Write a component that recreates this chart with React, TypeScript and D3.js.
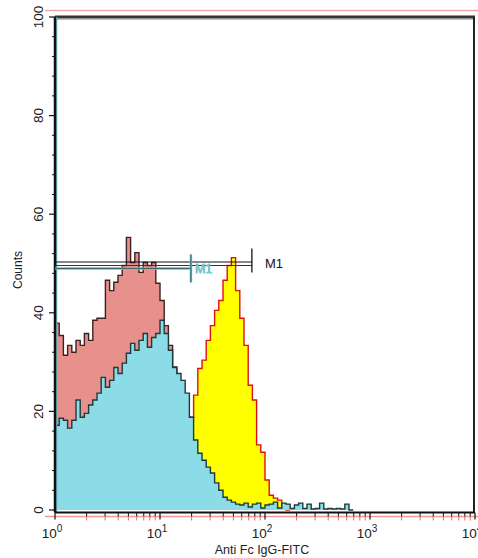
import React from 'react';
import * as d3 from 'd3';

// log10 bin width of the histograms
const binStep = 0.04;

// red-ish control histogram, bins starting at log10 = 0
const pinkStart = 0;
const pinkCounts = [37.9, 35.4, 31.4, 33.4, 32.0, 34.4, 33.4, 35.8, 34.4, 38.5, 38.9, 38.9, 46.6, 44.5, 46.2, 47.6, 49.6, 55.3, 50.2, 52.2, 48.2, 50.2, 49.6, 50.2, 46.0, 42.5, 37.4, 33.4, 29, 24, 19, 14, 9, 5, 3, 1.5, 0.5];

// blue histogram, bins starting at log10 = 0
const blueStart = 0;
const blueCounts = [17.2, 18.6, 18.2, 16.6, 18.2, 22.3, 18.8, 19.6, 21.3, 22.3, 23.7, 26.9, 24.9, 26.3, 28.9, 27.7, 29.8, 31.8, 33.8, 32.4, 34.4, 35.8, 33.0, 35.0, 35.8, 38.5, 35.8, 32.4, 28.9, 27.7, 26.3, 23.7, 18.8, 14.2, 11.5, 10.1, 8.7, 7.5, 5.5, 4.0, 2.6, 2.0, 1.6, 1.2, 1.0, 1.4, 0.6, 1.2, 1.4, 0.4, 1.0, 1.2, 1.6, 0.4, 1.4, 1.2, 0.3, 1.0, 1.4, 0.3, 1.2, 0.2, 0.3, 1.4, 0.2, 0.3, 0.2, 0.3, 0.2, 1.2, 0];

// yellow stained histogram, bins starting at log10 = 1.20
const yellowStart = 1.2;
const yellowCounts = [8, 13, 18.8, 23.3, 28.7, 30.4, 34.4, 37.4, 40.5, 42.5, 46.6, 49.6, 51.2, 44.5, 38.9, 33.4, 25.3, 22.3, 13.2, 11.7, 6.1, 3.0, 2.4, 2.0, 0.4, 0];

const decades = [0, 1, 2, 3, 4];
const yTicks = [0, 20, 40, 60, 80, 100];

// gates: [start, end] in channel value, level in counts
const gateBlack = { from: 1, to: 75, level: 50.2, label: 'M1' };
const gateBlue = { from: 1, to: 19.7, level: 49.0, label: 'M1' };

const W = 478;
const H = 558;
const font = '"Liberation Sans", Arial, sans-serif';

const x = d3.scaleLog().domain([1, 1e4]).range([55, 475]);
const y = d3.scaleLinear().domain([0, 100]).range([510, 17]);

const toPoints = (start: number, counts: number[]) => {
  const pts = counts.map((c, i) => [Math.pow(10, start + i * binStep), c] as [number, number]);
  const last = start + counts.length * binStep;
  pts.push([Math.pow(10, last), 0]);
  return pts;
};

const area = d3.area<[number, number]>()
  .x(d => x(d[0]))
  .y0(y(0))
  .y1(d => y(d[1]))
  .curve(d3.curveStepAfter);

const line = d3.line<[number, number]>()
  .x(d => x(d[0]))
  .y(d => y(d[1]))
  .curve(d3.curveStepAfter);

const Hist = ({ start, counts, fill, stroke }: any) => {
  const pts = toPoints(start, counts);
  return (
    <g>
      <path d={area(pts) || ''} fill={fill} />
      <path d={line(pts) || ''} fill="none" stroke={stroke} strokeWidth={1.4} />
    </g>
  );
};

export default function App() {
  const axisY = y(0) + 2.5;
  const minorX: number[] = [];
  for (let d = 0; d < 4; d++) for (let m = 2; m <= 9; m++) minorX.push(m * Math.pow(10, d));
  const minorY = d3.range(0, 101, 4).filter(v => v % 20 !== 0);

  return (
    <div style={{ position: 'fixed', left: 0, top: 0 }}>
      <svg width={W} height={H} style={{ display: 'block', background: '#fff' }}>
        {/* faint pink echo lines */}
        <line x1={45} x2={478} y1={10.5} y2={10.5} stroke="#f4a6a6" strokeWidth={1.5} />
        <line x1={45} x2={478} y1={axisY + 4} y2={axisY + 4} stroke="#ef9a9a" strokeWidth={1.5} />

        <Hist start={pinkStart} counts={pinkCounts} fill="#e8908c" stroke="#3a2222" />
        <Hist start={yellowStart} counts={yellowCounts} fill="#ffff00" stroke="#e01010" />
        <Hist start={blueStart} counts={blueCounts} fill="#8cdce8" stroke="#1d3a3d" />

        {/* frame */}
        <line x1={x(1)} x2={x(1e4)} y1={y(100)} y2={y(100)} stroke="#333" strokeWidth={3} />
        <line x1={x(1)} x2={x(1e4)} y1={y(100) + 2.5} y2={y(100) + 2.5} stroke="#9cc9cf" strokeWidth={1} />
        <line x1={x(1e4) - 1} x2={x(1e4) - 1} y1={y(100)} y2={axisY} stroke="#222" strokeWidth={2} />
        <line x1={x(1) + 1.5} x2={x(1) + 1.5} y1={y(100)} y2={axisY} stroke="#6cb8c4" strokeWidth={1.5} />
        <line x1={x(1)} x2={x(1)} y1={y(100)} y2={axisY} stroke="#111" strokeWidth={2.5} />
        <line x1={x(1)} x2={x(1e4)} y1={axisY} y2={axisY} stroke="#111" strokeWidth={2} />

        {/* x ticks */}
        {minorX.map(v => (
          <g key={'mx' + v}>
            <line x1={x(v)} x2={x(v)} y1={axisY} y2={axisY + 4} stroke="#111" strokeWidth={1} />
            <line x1={x(v)} x2={x(v)} y1={axisY + 4} y2={axisY + 8} stroke="#e07070" strokeWidth={1} />
          </g>
        ))}
        {decades.map(d => (
          <g key={'dx' + d}>
            <line x1={x(Math.pow(10, d))} x2={x(Math.pow(10, d))} y1={axisY} y2={axisY + 7} stroke="#111" strokeWidth={1.2} />
            <text x={x(Math.pow(10, d)) - 3} y={538} textAnchor="middle" fontFamily={font} fontSize={13.5} fill="#222">
              10<tspan fontSize={10} dy={-6}>{d}</tspan>
            </text>
          </g>
        ))}

        {/* y ticks */}
        {minorY.map(v => (
          <line key={'my' + v} x1={x(1) - 3} x2={x(1)} y1={y(v)} y2={y(v)} stroke="#111" strokeWidth={1} />
        ))}
        {yTicks.map(v => (
          <g key={'y' + v}>
            <line x1={x(1) - 6} x2={x(1)} y1={y(v)} y2={y(v)} stroke="#111" strokeWidth={1.2} />
            <text transform={`translate(43,${y(v)}) rotate(-90)`} textAnchor="middle" fontFamily={font} fontSize={13.5} fill="#222">
              {v}
            </text>
          </g>
        ))}

        {/* gates */}
        <line x1={x(gateBlack.from)} x2={x(gateBlack.to)} y1={y(gateBlack.level) - 0.5} y2={y(gateBlack.level) - 0.5} stroke="#111" strokeWidth={1} />
        <line x1={x(gateBlack.from)} x2={x(gateBlack.to)} y1={y(gateBlack.level) + 3} y2={y(gateBlack.level) + 3} stroke="#333" strokeWidth={1} />
        <line x1={x(gateBlack.to)} x2={x(gateBlack.to)} y1={y(gateBlack.level) - 14} y2={y(gateBlack.level) + 10} stroke="#111" strokeWidth={1.3} />
        <text x={x(gateBlack.to) + 13} y={y(gateBlack.level) + 5} fontFamily={font} fontSize={13} fill="#111">{gateBlack.label}</text>

        <line x1={x(gateBlue.from)} x2={x(gateBlue.to)} y1={y(gateBlue.level)} y2={y(gateBlue.level)} stroke="#6cc0cc" strokeWidth={2.5} />
        <line x1={x(gateBlue.from)} x2={x(gateBlue.to)} y1={y(gateBlue.level)} y2={y(gateBlue.level)} stroke="#2b4a4e" strokeWidth={0.8} />
        <line x1={x(gateBlue.to)} x2={x(gateBlue.to)} y1={y(gateBlue.level) - 14} y2={y(gateBlue.level) + 14} stroke="#6cc0cc" strokeWidth={2.5} />
        <line x1={x(gateBlue.to)} x2={x(gateBlue.to)} y1={y(gateBlue.level) - 14} y2={y(gateBlue.level) + 14} stroke="#2b4a4e" strokeWidth={0.8} />
        <text x={x(gateBlue.to) + 4} y={y(gateBlue.level) + 5} fontFamily={font} fontSize={12.5} fill="#2f5a60" stroke="#7fcbd6" strokeWidth={0.8}>{gateBlue.label}</text>

        {/* axis titles */}
        <text transform="translate(22,270) rotate(-90)" textAnchor="middle" fontFamily={font} fontSize={12}
          fill="#222">Counts</text>
        <text x={262} y={554} textAnchor="middle" fontFamily={font} fontSize={12.5} fill="#222">Anti Fc IgG-FITC</text>
      </svg>
    </div>
  );
}
